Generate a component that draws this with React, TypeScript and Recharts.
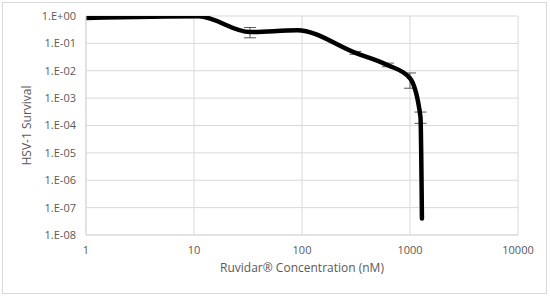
import {
  LineChart,
  Line,
  XAxis,
  YAxis,
  CartesianGrid,
  ErrorBar,
} from "recharts";

// concentration (nM)
const concentrations = [1, 11, 33, 90, 312, 625, 1000, 1250, 1290];
// HSV-1 survival fraction
const survival = [0.85, 0.97, 0.26, 0.3, 0.045, 0.016, 0.0053, 0.00021, 0.00000004];
// error bars [lower, upper], null = none drawn
const survivalErr: ([number, number] | null)[] = [
  null,
  null,
  [0.1, 0.12],
  null,
  [0.005, 0.006],
  [0.002, 0.003],
  [0.003, 0.003],
  [0.00009, 0.0001],
  null,
];

const xTicks = [1, 10, 100, 1000, 10000];
const yTicks = [1e-8, 1e-7, 1e-6, 1e-5, 1e-4, 1e-3, 1e-2, 1e-1, 1];

const data = concentrations.map((c, i) => ({
  conc: c,
  survival: survival[i],
  err: survivalErr[i],
}));

function fmtSci(v: number) {
  const e = Math.round(Math.log10(v));
  const sign = e < 0 ? "-" : "+";
  return `1.E${sign}${String(Math.abs(e)).padStart(2, "0")}`;
}

const FONT = "'Open Sans', 'Noto Sans', sans-serif";
const GRID = "#d9d9d9";
const TEXT = "#595959";

export default function App() {
  return (
    <div
      style={{
        position: "fixed",
        left: 0,
        top: 0,
        width: 550,
        height: 296,
        background: "#fff",
        fontFamily: FONT,
      }}
    >
      <div
        style={{
          position: "absolute",
          left: 2,
          top: 2,
          width: 543,
          height: 290,
          border: `1px solid ${GRID}`,
        }}
      />
      <div style={{ position: "absolute", left: 0, top: 0 }}>
        <LineChart
          width={550}
          height={296}
          data={data}
          margin={{ top: 16, right: 32, bottom: 31, left: 16 }}
        >
          <CartesianGrid stroke={GRID} strokeWidth={1} />
          <XAxis
            dataKey="conc"
            type="number"
            scale="log"
            domain={[1, 10000]}
            ticks={xTicks}
            allowDataOverflow
            height={30}
            axisLine={{ stroke: GRID }}
            tickLine={false}
            tickMargin={5}
            tick={{ fill: TEXT, fontSize: 11, fontFamily: FONT }}
            label={{
              value: "Ruvidar® Concentration (nM)",
              position: "bottom",
              offset: -2,
              fill: TEXT,
              fontSize: 12,
              fontFamily: FONT,
            }}
          />
          <YAxis
            type="number"
            scale="log"
            domain={[1e-8, 1]}
            ticks={yTicks}
            allowDataOverflow
            width={70}
            axisLine={{ stroke: GRID }}
            tickLine={false}
            tickMargin={4}
            tickFormatter={fmtSci}
            tick={{ fill: TEXT, fontSize: 11, fontFamily: FONT }}
            label={{
              value: "HSV-1 Survival",
              angle: -90,
              position: "insideLeft",
              offset: 11,
              fill: TEXT,
              fontSize: 12,
              fontFamily: FONT,
              style: { textAnchor: "middle" },
            }}
          />
          <Line
            dataKey="survival"
            type="monotone"
            stroke="#000"
            strokeWidth={4.5}
            dot={false}
            strokeLinecap="round"
            isAnimationActive={false}
          >
            <ErrorBar
              dataKey="err"
              direction="y"
              width={6}
              stroke="#595959"
              strokeWidth={1}
            />
          </Line>
        </LineChart>
      </div>
    </div>
  );
}
